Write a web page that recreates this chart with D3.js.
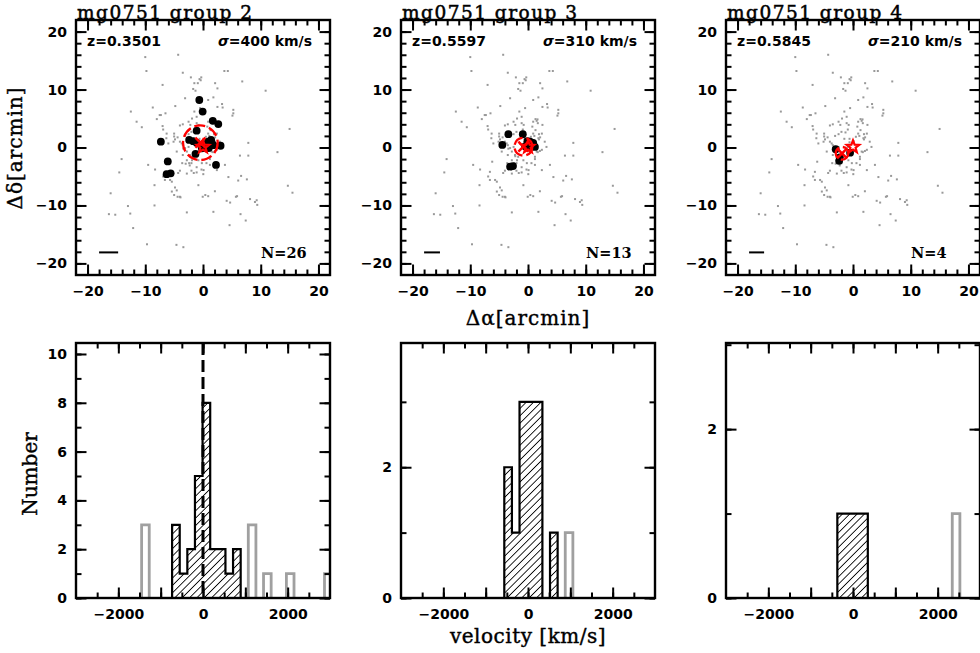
<!DOCTYPE html>
<html>
<head>
<meta charset="utf-8">
<script src="https://cdn.jsdelivr.net/npm/d3@7"></script>
<style>
  body { margin: 0; background: #fff; }
  svg text { fill: #000; }
</style>
</head>
<body>
<div id="chart"></div>
<script>
// background galaxies in the field (arcmin), same in every panel
var fieldGalaxies = [
  [-4.3,16.0],[-10.0,15.6],[-9.8,13.2],[-3.5,12.9],[-2.1,12.1],[-0.6,11.8],[-0.3,12.1],[-1.5,11.1],
  [-0.9,11.1],[2.1,11.1],[3.7,13.2],[4.3,13.2],[6.8,11.4],[2.5,10.2],[-1.7,10.1],[-7.0,10.8],
  [10.85,9.8],[-3.1,8.5],[0.9,8.2],[1.8,8.65],[-4.8,7.15],[-8.7,6.9],[-12.5,6.2],[-11.5,4.45],
  [-10.6,3.5],[-8.0,4.9],[-7.3,5.6],[-6.5,5.9],[5.25,6.5],[5.25,5.9],[2.5,7.0],[3.4,6.9],
  [1.3,4.9],[1.5,4.6],[2.5,3.9],[-4.0,3.8],[-3.5,4.0],[-1.5,6.2],[-0.5,6.8],[15.0,3.2],
  [7.85,0.8],[6.4,-1.4],[7.85,-1.4],[12.9,-0.8],[-14.1,-2.0],[-14.5,-4.3],[-9.5,-3.0],[-8.3,-3.8],
  [4.4,-5.1],[6.6,-4.9],[6.1,-5.7],[7.6,-5.5],[5.7,-8.5],[9.3,-9.1],[9.0,-9.4],[9.4,-9.9],
  [4.1,-9.2],[4.7,-9.5],[14.7,-6.6],[15.5,-7.8],[0.4,-8.2],[0.9,-8.4],[-0.05,-8.5],[1.8,-11.1],
  [6.5,-11.5],[7.4,-12.6],[4.6,-13.4],[-2.8,-11.2],[-8.4,-10.0],[-13.0,-10.1],[-12.6,-11.4],[-16.3,-11.5],
  [-15.2,-11.6],[-16.0,-7.9],[-12.1,-13.9],[-9.7,-16.7],[-4.6,-16.8],[-3.4,-17.2],[-8.4,-6.5],[-6.9,-5.0],
  [-6.6,-5.6],[-5.7,-5.6],[-5.4,-5.9],[-6.6,-4.2],[-5.4,-7.6],[-5.0,-8.2],[-4.4,-8.5],[-4.0,-8.5],
  [-4.85,-6.9],[-2.8,-4.5],[-2.0,-4.0],[-1.1,-4.3],[-3.5,-1.3],[-2.8,-2.2],[-2.4,-2.7],[-4.0,-4.0],
  [0.05,-4.6],[-0.8,-6.5],[-2.0,-2.7],[-6.9,3.1],[-6.3,2.4],[-5.0,2.4],[-4.4,1.75],[-4.85,1.4],
  [-6.0,0.7],[-4.0,1.0],[-3.5,0.4],[-3.1,-0.1],[-2.8,-0.7],[-2.5,0.1],[-2.25,-1.3],[-1.7,-1.6],
  [-3.1,2.0],[-2.5,2.3],[-2.0,2.7],[-1.1,4.2],[-0.75,3.9],[0.75,3.6],[1.3,3.0],[1.9,2.3],
  [2.4,2.4],[0.9,2.4],[1.8,1.6],[2.9,1.0],[3.2,0.1],[2.4,-0.4],[1.5,-0.7],[1.2,-1.6],
  [-0.8,-2.2],[-0.2,-2.7],[1.2,-3.0],[2.4,-3.9],[3.8,-3.0],[-6.2,-2.45],[-4.55,-0.7],[-4.3,-4.4],
  [-1.1,-3.4],[-0.26,-3.8],[-3.6,-2.7],[-4.55,-7.4],[-3.9,-8.6],[-2.5,4.45],[-1.9,5.0],[-1.1,5.3],
  [-2.2,3.9],[0.9,4.45],[1.7,4.2],[1.9,1.4],[0.6,-2.7],[0.1,-3.9],[1.7,-0.8],[-0.9,0.1],
  [-0.6,0.9],[0.1,1.1],[-5.1,1.0],[-3.7,0.7],[-3.4,-0.2],[-2.2,-1.5],[-1.9,-2.2],[-2.3,-3.1],
  [-3.0,-2.8],[-1.6,-4.4],[2.06,-7.55],[5.9,-8.4],[8.15,-8.9],[1.2,-2.0],[2.06,-0.6],[0.5,1.85],
  [1.1,2.0],[2.1,1.75],[3.3,7.5],[5.1,5.5],[1.65,4.85],[-1.3,9.8],[-0.4,11.6],[-7.5,5.6],
  [-7.0,3.7],[-6.35,1.6],[-5.0,1.9],[-1.3,2.6],[-0.9,3.1],[-1.5,1.5],[-0.6,1.5]
];

// spectroscopic members of each group (arcmin)
var members2 = [
  [-0.64,8.2],[-0.06,6.2],[1.7,4.6],[2.65,4.05],[-1.1,2.9],[-7.3,1.0],[-2.4,1.3],[-1.7,1.1],
  [-1.1,0.8],[0.2,0.15],[0.9,1.0],[1.2,0.3],[0.5,-0.15],[1.4,1.3],[1.8,0.4],[3.05,0.3],
  [-0.2,-0.15],[-1.3,-1.1],[-6.1,-2.4],[-6.3,-4.6],[-5.6,-4.45],[2.25,-3.0],[0.7,0.6],[1.0,-0.1],
  [0.1,0.5],[1.5,0.9]
];
var members3 = [
  [-3.4,2.3],[-4.45,0.45],[-0.9,2.3],[0.35,1.0],[0.9,0.8],[1.2,0.1],[0.6,0.5],[-0.5,0.2],
  [-0.1,1.1],[-3.1,-3.3],[-2.6,-3.2],[0.2,0.0],[1.0,0.3]
];
var members4 = [[-3.0,-0.3],[-0.5,-0.9],[-2.4,-2.3],[-2.3,-1.7]];

var groupNames = ["mg0751 group 2", "mg0751 group 3", "mg0751 group 4"];
var redshifts = ["0.3501", "0.5597", "0.5845"];
var sigmas = [400, 310, 210];
var memberCounts = [26, 13, 4];
// group centre and radius (arcmin)
var centres = [[-0.46, 0.83, 3.0], [-0.8, 0.14, 1.55], [-1.9, -1.0, 1.1]];
var lensPos = [0, 0.1];
var scaleBarLen = [3.3, 2.75, 2.6];

// velocity histograms (km/s)
var binWidth = 180;
var hist2Edges = [-730, -550, -370, -190, -10, 170, 350, 530, 710];
var hist2Counts = [3, 1, 2, 5, 8, 2, 2, 1, 2];
var grey2Edges = [-1450, 1070, 1430, 1970, 2870];
var grey2Counts = [3, 3, 1, 1, 1];
var hist3Edges = [-560, -380, -200, -20, 160, 340, 520];
var hist3Counts = [2, 1, 3, 3, 3, 0, 1];
var grey3Edges = [880];
var grey3Counts = [1];
var hist4Edges = [-370, -190, -10, 170];
var hist4Counts = [1, 1, 1, 1];
var grey4Edges = [2345];
var grey4Counts = [1];
var histTop = [10.45, 3.9, 3.02];

var memberSets = [members2, members3, members4];
var histEdges = [hist2Edges, hist3Edges, hist4Edges];
var histCounts = [hist2Counts, hist3Counts, hist4Counts];
var greyEdges = [grey2Edges, grey3Edges, grey4Edges];
var greyCounts = [grey2Counts, grey3Counts, grey4Counts];

var W = 980, H = 653;
var lefts = [76, 401, 726];
var pw = 254;
var topY = 20, topH = 255;
var botY = 343, botH = 255;

var sans = "'DejaVu Sans', sans-serif";
var serif = "'DejaVu Serif', serif";

var svg = d3.select('#chart').append('svg')
    .attr('width', W).attr('height', H);

var defs = svg.append('defs');
defs.append('pattern')
    .attr('id', 'hatch')
    .attr('patternUnits', 'userSpaceOnUse')
    .attr('width', 5.2).attr('height', 5.2)
    .attr('patternTransform', 'rotate(45)')
  .append('line')
    .attr('x1', 0).attr('y1', -1).attr('x2', 0).attr('y2', 7)
    .attr('stroke', '#000').attr('stroke-width', 1.7);

var fmt = d3.format('d');

// PGPLOT-like frame: inward ticks on all four sides
function frame(g, x, y, w, h, xt, yt) {
  var sides = [
    { make: d3.axisBottom, s: x, tr: [0, h], t: xt, pad: 11 },
    { make: d3.axisTop, s: x, tr: [0, 0], t: xt, pad: 0, nolab: true },
    { make: d3.axisLeft, s: y, tr: [0, 0], t: yt, pad: 9 },
    { make: d3.axisRight, s: y, tr: [w, 0], t: yt, pad: 0, nolab: true }
  ];
  sides.forEach(function(sd) {
    g.append('g')
        .attr('transform', 'translate(' + sd.tr + ')')
        .call(sd.make(sd.s).tickValues(sd.t.minor).tickSizeInner(-5.5).tickSizeOuter(0).tickFormat(''))
        .call(function(a) { a.select('.domain').remove(); a.selectAll('line').attr('stroke-width', 2); });
    g.append('g')
        .attr('transform', 'translate(' + sd.tr + ')')
        .call(sd.make(sd.s).tickValues(sd.t.major).tickSizeInner(-10.5).tickSizeOuter(0)
          .tickPadding(sd.pad)
          .tickFormat(function(d) { return (!sd.nolab && sd.t.labels.indexOf(d) >= 0) ? fmt(d) : ''; }))
        .call(function(a) {
          a.select('.domain').remove();
          a.selectAll('line').attr('stroke-width', 2);
          a.selectAll('text').attr('font-family', sans).attr('font-weight', 'bold')
            .attr('font-size', 14).attr('fill', '#000');
        });
  });
  g.append('rect')
      .attr('width', w).attr('height', h)
      .attr('fill', 'none').attr('stroke', '#000').attr('stroke-width', 2.4);
}

function starPath(cx, cy, r) {
  var pts = [];
  for (var i = 0; i < 10; i++) {
    var a = -Math.PI / 2 + i * Math.PI / 5;
    var rr = i % 2 === 0 ? r : r * 0.42;
    pts.push([cx + rr * Math.cos(a), cy + rr * Math.sin(a)]);
  }
  return 'M' + pts.join('L') + 'Z';
}

lefts.forEach(function(left, k) {
  // ---------- sky panel ----------
  var g = svg.append('g').attr('transform', 'translate(' + left + ',' + topY + ')');
  var x = d3.scaleLinear().domain([-22, 22]).range([0, pw]);
  var y = d3.scaleLinear().domain([-22, 22]).range([topH, 0]);

  g.append('clipPath').attr('id', 'clipT' + k)
    .append('rect').attr('width', pw).attr('height', topH);
  var pg = g.append('g').attr('clip-path', 'url(#clipT' + k + ')');

  pg.selectAll('.field')
      .data(fieldGalaxies).enter()
    .append('rect')
      .attr('x', function(d) { return x(d[0]) - 1; })
      .attr('y', function(d) { return y(d[1]) - 1; })
      .attr('width', 2).attr('height', 2)
      .attr('fill', '#999');

  pg.selectAll('.member')
      .data(memberSets[k]).enter()
    .append('circle')
      .attr('cx', function(d) { return x(d[0]); })
      .attr('cy', function(d) { return y(d[1]); })
      .attr('r', 3.9)
      .attr('fill', '#000');

  var c = centres[k];
  pg.append('circle')
      .attr('cx', x(c[0])).attr('cy', y(c[1]))
      .attr('r', x(c[2]) - x(0))
      .attr('fill', 'none').attr('stroke', '#ff0000').attr('stroke-width', 2.3)
      .attr('stroke-dasharray', '11,4');
  var cx = x(c[0]), cy = y(c[1]), s = 5;
  pg.append('path')
      .attr('d', 'M' + (cx - s) + ',' + (cy - s) + 'L' + (cx + s) + ',' + (cy + s) +
                 'M' + (cx - s) + ',' + (cy + s) + 'L' + (cx + s) + ',' + (cy - s))
      .attr('stroke', '#ff0000').attr('stroke-width', 2.5);
  pg.append('path')
      .attr('d', starPath(x(lensPos[0]), y(lensPos[1]), 6.5))
      .attr('fill', 'none').attr('stroke', '#ff0000').attr('stroke-width', 2.2);

  // scale bar
  g.append('line')
      .attr('x1', x(-18)).attr('x2', x(-18 + scaleBarLen[k]))
      .attr('y1', y(-18.1)).attr('y2', y(-18.1))
      .attr('stroke', '#000').attr('stroke-width', 2);

  frame(g, x, y, pw, topH,
        { major: [-20, -10, 0, 10, 20], minor: d3.range(-20, 21, 2), labels: [-20, -10, 0, 10, 20] },
        { major: [-20, -10, 0, 10, 20], minor: d3.range(-20, 21, 2), labels: [-20, -10, 0, 10, 20] });

  g.append('text')
      .attr('x', 1).attr('y', -1.5)
      .attr('font-family', serif).attr('font-size', 18.5)
      .attr('letter-spacing', 1.5)
      .attr('stroke', '#000').attr('stroke-width', 0.5)
      .text(groupNames[k]);
  g.append('text')
      .attr('x', 11).attr('y', 26)
      .attr('font-family', sans).attr('font-weight', 'bold').attr('font-size', 14)
      .text('z=' + redshifts[k]);
  var st = g.append('text')
      .attr('x', 236).attr('y', 26).attr('text-anchor', 'end')
      .attr('font-family', sans).attr('font-weight', 'bold').attr('font-size', 14);
  st.append('tspan').attr('font-style', 'italic').text('σ');
  st.append('tspan').text('=' + sigmas[k] + ' km/s');
  g.append('text')
      .attr('x', 185).attr('y', 238)
      .attr('font-family', serif).attr('font-weight', 'bold').attr('font-size', 14.5)
      .text('N=' + memberCounts[k]);

  // ---------- velocity histogram ----------
  var hg = svg.append('g').attr('transform', 'translate(' + left + ',' + botY + ')');
  var hx = d3.scaleLinear().domain([-3000, 3000]).range([0, pw]);
  var hy = d3.scaleLinear().domain([0, histTop[k]]).range([botH, 0]);

  hg.append('clipPath').attr('id', 'clipB' + k)
    .append('rect').attr('width', pw).attr('height', botH);
  var hp = hg.append('g').attr('clip-path', 'url(#clipB' + k + ')');

  hp.selectAll('.grey')
      .data(greyEdges[k].map(function(e, i) { return [e, greyCounts[k][i]]; })).enter()
    .append('path')
      .attr('d', function(d) {
        return 'M' + hx(d[0]) + ',' + hy(0) + 'V' + hy(d[1]) + 'H' + hx(d[0] + binWidth) + 'V' + hy(0);
      })
      .attr('fill', 'none').attr('stroke', '#a0a0a0').attr('stroke-width', 2.8);

  var edges = histEdges[k], counts = histCounts[k];
  var p = d3.path();
  p.moveTo(hx(edges[0]), hy(0));
  edges.forEach(function(e, i) {
    p.lineTo(hx(e), hy(counts[i]));
    p.lineTo(hx(e + binWidth), hy(counts[i]));
  });
  p.lineTo(hx(edges[edges.length - 1] + binWidth), hy(0));
  p.closePath();
  hp.append('path')
      .attr('d', p.toString())
      .attr('fill', 'url(#hatch)')
      .attr('stroke', '#000').attr('stroke-width', 2.2).attr('stroke-linejoin', 'miter');

  if (k === 0) {
    hp.append('line')
        .attr('x1', hx(0)).attr('x2', hx(0))
        .attr('y1', 0).attr('y2', botH)
        .attr('stroke', '#000').attr('stroke-width', 3)
        .attr('stroke-dasharray', '12,5');
  }

  var ymaj = d3.range(0, histTop[k], 2);
  frame(hg, hx, hy, pw, botH,
        { major: d3.range(-2000, 2001, 1000), minor: d3.range(-2500, 2501, 500), labels: [-2000, 0, 2000] },
        { major: ymaj, minor: d3.range(0, histTop[k], 1), labels: ymaj });
});

// axis titles
svg.append('text')
    .attr('transform', 'translate(22,148) rotate(-90)')
    .attr('text-anchor', 'middle')
    .attr('font-family', serif).attr('font-size', 20).attr('letter-spacing', 1)
    .attr('stroke', '#000').attr('stroke-width', 0.4)
    .text('Δδ[arcmin]');
svg.append('text')
    .attr('x', 528).attr('y', 325)
    .attr('text-anchor', 'middle')
    .attr('font-family', serif).attr('font-size', 20).attr('letter-spacing', 1)
    .attr('stroke', '#000').attr('stroke-width', 0.4)
    .text('Δα[arcmin]');
svg.append('text')
    .attr('transform', 'translate(37,474) rotate(-90)')
    .attr('text-anchor', 'middle')
    .attr('font-family', serif).attr('font-size', 20)
    .attr('stroke', '#000').attr('stroke-width', 0.4)
    .text('Number');
svg.append('text')
    .attr('x', 528).attr('y', 643)
    .attr('text-anchor', 'middle')
    .attr('font-family', serif).attr('font-size', 20).attr('letter-spacing', 0.5)
    .attr('stroke', '#000').attr('stroke-width', 0.4)
    .text('velocity [km/s]');
</script>
</body>
</html>
